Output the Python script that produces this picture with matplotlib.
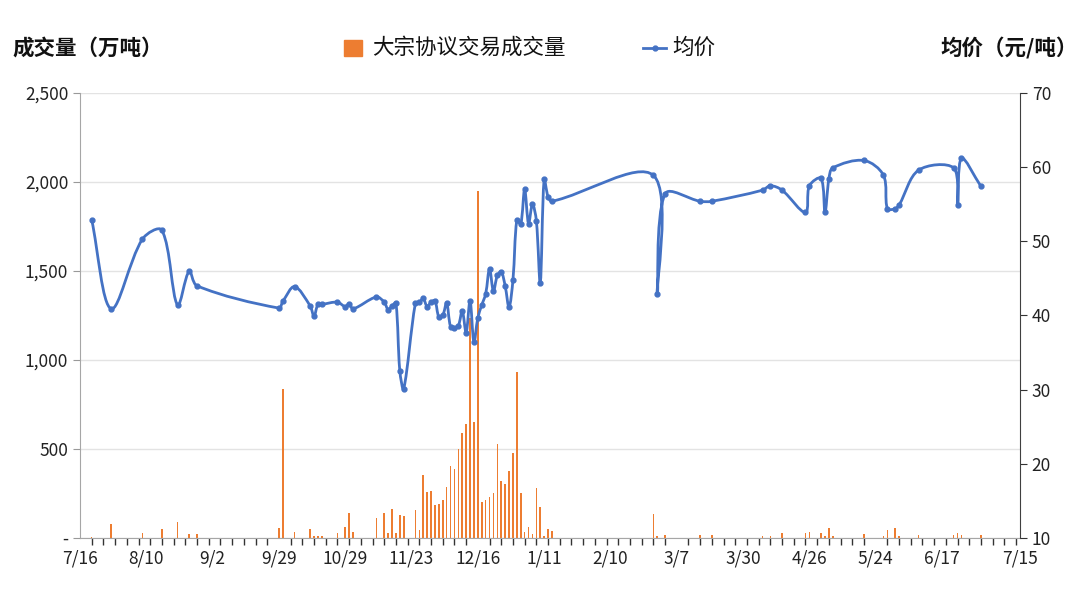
import numpy as np
import matplotlib.pyplot as plt
from matplotlib.path import Path
from matplotlib.patches import PathPatch, Rectangle
from matplotlib.lines import Line2D

plt.rcParams['font.family'] = ['Noto Sans CJK SC', 'DejaVu Sans']

# trading-day index (0 = 7/16) for each day with a block trade
bar_idx = [3, 8, 16, 21, 25, 28, 30, 51, 52, 55, 59, 60, 61, 62, 66, 68, 69, 70,
           76, 78, 79, 80, 81, 82, 83, 86, 87, 88, 89, 90, 91, 92, 93, 94, 95, 96,
           97, 98, 99, 100, 101, 102, 103, 104, 105, 106, 107, 108, 109, 110, 111,
           112, 113, 114, 115, 116, 117, 118, 119, 120, 121, 147, 148, 150, 159,
           162, 175, 177, 180, 186, 187, 190, 191, 192, 193, 201, 206, 207, 209,
           210, 215, 224, 225, 226, 231]
volume = [8, 79, 26, 50, 92, 24, 21, 54, 837, 35, 50, 11, 10, 10, 28, 60, 140, 32,
          114, 140, 28, 163, 28, 129, 124, 157, 47, 354, 258, 266, 185, 193, 213,
          285, 403, 386, 498, 590, 638, 1234, 654, 1949, 200, 215, 229, 253, 528,
          318, 303, 376, 478, 931, 253, 34, 62, 24, 281, 174, 13, 50, 41, 135, 11,
          19, 19, 15, 11, 11, 26, 30, 36, 30, 11, 58, 11, 21, 11, 43, 58, 11, 15,
          15, 26, 15, 19]
price = [52.9, 40.9, 50.3, 51.5, 41.4, 46.0, 44.0, 41.0, 41.9, 43.9, 41.3, 39.9,
         41.5, 41.5, 41.8, 41.2, 41.6, 40.9, 42.5, 41.8, 40.8, 41.3, 41.7, 32.5,
         30.1, 41.7, 41.8, 42.3, 41.2, 41.8, 42.0, 39.8, 40.0, 41.7, 38.5, 38.3,
         38.6, 40.6, 37.7, 42.0, 36.4, 39.7, 41.4, 42.9, 46.3, 43.3, 45.4, 45.9,
         44.0, 41.1, 44.8, 52.9, 52.3, 57.0, 52.4, 55.0, 52.8, 44.4, 58.4, 56.0,
         55.4, 58.9, 42.9, 56.4, 55.4, 55.4, 56.9, 57.5, 56.9, 53.9, 57.5, 58.5,
         53.9, 58.4, 59.9, 60.9, 58.9, 54.4, 54.4, 54.9, 59.6, 59.9, 54.9, 61.2,
         57.4]

n_days = 242
tick_pos = [0, 17, 34, 51, 68, 85, 102, 119, 136, 153, 170, 187, 204, 221, 241]
tick_lab = ['7/16', '8/10', '9/2', '9/29', '10/29', '11/23', '12/16', '1/11',
            '2/10', '3/7', '3/30', '4/26', '5/24', '6/17', '7/15']

orange = '#ED7D31'
blue = '#4472C4'
W, H = 1080, 596

fig = plt.figure(figsize=(10.8, 5.96), dpi=100)
ax = fig.add_axes([80 / W, 58 / H, 940 / W, 445 / H])
ax2 = ax.twinx()

ax.bar(bar_idx, volume, width=0.4, color=orange, zorder=2)
ax.set_xlim(0, n_days - 1)
ax.set_ylim(0, 2500)
yt = [0, 500, 1000, 1500, 2000, 2500]
ax.set_yticks(yt)
ax.set_yticklabels(['-' if v == 0 else f'{v:,}' for v in yt])
ax.grid(axis='y', color='#E3E3E3', lw=1)
ax.set_axisbelow(True)
ax.set_xticks(tick_pos)
ax.set_xticklabels(tick_lab)
ax.set_xticks(np.arange(0, n_days, 3), minor=True)
ax.tick_params(axis='x', which='major', length=0, pad=8, labelsize=12.5, colors='#222222')
ax.tick_params(axis='x', which='minor', length=5, color='#333333', width=1)
ax.tick_params(axis='y', length=5, color='#999999', labelsize=12.5, labelcolor='#222222')

ax2.set_ylim(10, 70)
ax2.set_yticks([10, 20, 30, 40, 50, 60, 70])
ax2.tick_params(axis='y', length=5, color='#333333', labelsize=12.5, labelcolor='#222222')

ax.spines['top'].set_visible(False)
ax2.spines['top'].set_visible(False)
ax2.spines['left'].set_visible(False)
ax2.spines['bottom'].set_visible(False)
ax.spines['right'].set_visible(False)
ax.spines['left'].set_color('#A6A6A6')
ax.spines['bottom'].set_color('#A6A6A6')
ax2.spines['right'].set_color('#404040')

# smoothed line, bezier handles scaled by neighbouring segment lengths (pixel space)
pts = ax2.transData.transform(np.column_stack([bar_idx, price]))
n = len(pts)
verts = [pts[0]]
codes = [Path.MOVETO]
for k in range(n - 1):
    p0 = pts[k - 1] if k > 0 else pts[k]
    p1 = pts[k]
    p2 = pts[k + 1]
    p3 = pts[k + 2] if k + 2 < n else pts[k + 1]
    d01 = np.hypot(*(p1 - p0))
    d12 = np.hypot(*(p2 - p1))
    d23 = np.hypot(*(p3 - p2))
    f1 = d12 / (d01 + d12) if d01 + d12 > 0 else 0.5
    f2 = d12 / (d12 + d23) if d12 + d23 > 0 else 0.5
    c1 = p1 + (p2 - p0) * f1 / 3
    c2 = p2 - (p3 - p1) * f2 / 3
    verts += [c1, c2, p2]
    codes += [Path.CURVE4] * 3
verts = ax2.transData.inverted().transform(np.array(verts))
ax2.add_patch(PathPatch(Path(verts, codes), fill=False, ec=blue, lw=2.0,
                        capstyle='round', joinstyle='round', zorder=3))
ax2.plot(bar_idx, price, 'o', ms=3.5, color=blue, zorder=4)

ty = 1 - 48 / H
fig.text(12 / W, ty, '成交量（万吨）', fontsize=15.5, fontweight='bold',
         va='center', ha='left', color='#111111')
fig.text(1078 / W, ty, '均价（元/吨）', fontsize=15.5, fontweight='bold',
         va='center', ha='right', color='#111111')

# legend
fig.patches.append(Rectangle((344 / W, 1 - 56 / H), 18 / W, 16 / H, color=orange,
                             transform=fig.transFigure))
fig.text(372 / W, ty, '大宗协议交易成交量', fontsize=15.5, va='center', ha='left',
         color='#111111')
fig.lines.append(Line2D([643 / W, 666 / W], [ty, ty], color=blue, lw=2,
                        transform=fig.transFigure))
fig.lines.append(Line2D([654.5 / W], [ty], color=blue, marker='o', ms=3.5,
                        transform=fig.transFigure))
fig.text(672 / W, ty, '均价', fontsize=15.5, va='center', ha='left', color='#111111')

fig.savefig('out.png', dpi=100)
